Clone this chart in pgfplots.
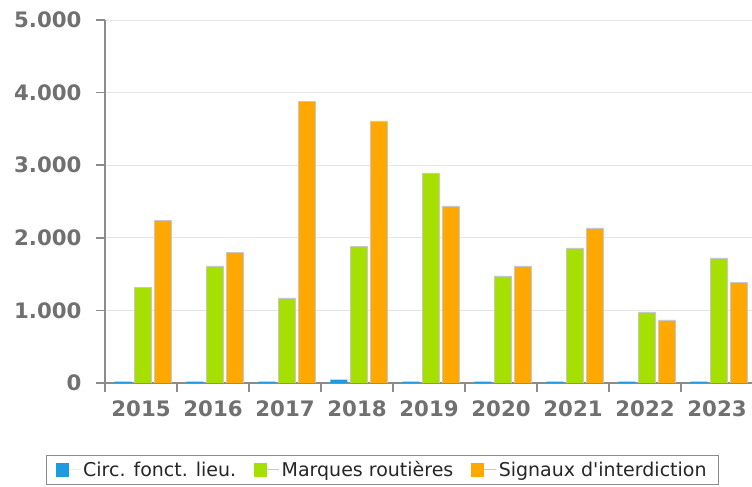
\documentclass[border=0pt]{standalone}
\usepackage{pgfplots}
\pgfplotsset{compat=1.18}
\usepackage{fontspec}
\setmainfont{DejaVu Sans}
\definecolor{cblue}{HTML}{1E9BE0}
\definecolor{cgreen}{HTML}{A6E000}
\definecolor{corange}{HTML}{FFA800}
\definecolor{tickgray}{HTML}{707070}
\definecolor{axgray}{HTML}{8C8C8C}
\definecolor{gridgray}{HTML}{E6E6E6}
\definecolor{edgegray}{HTML}{C8C8C8}
\begin{document}
\begin{tikzpicture}[x=1pt,y=1pt]
\begin{axis}[
  at={(105pt,104pt)}, anchor=south west,
  scale only axis, width=648pt, height=363pt,
  xmin=-0.5, xmax=8.5, ymin=0, ymax=5000,
  axis lines=left, axis line style={-, draw=axgray, line width=1.5pt},
  ytick={0,1000,...,5000},
  ymajorgrids, grid style={gridgray, line width=0.8pt},
  scaled y ticks=false,
  yticklabel style={/pgf/number format/.cd, 1000 sep={.}, assume math mode=true, /tikz/.cd, xshift=-11pt},
  xticklabel style={yshift=-5pt},
  ticklabel style={font=\fontsize{21.3}{25}\selectfont\bfseries, color=tickgray},
  xtick={-0.5,0.5,...,8.5},
  x tick label as interval,
  xticklabels={2015,2016,2017,2018,2019,2020,2021,2022,2023},
  tick align=outside,
  major tick length=9pt,
  tick style={axgray, line width=1.5pt},
  bar width=17pt,
  legend columns=3,
  legend style={at={(axis description cs:0.428,0)}, anchor=north, yshift=-72pt,
    draw=axgray, line width=1pt, font=\fontsize{19}{22}\selectfont, text=black!85,
    inner xsep=10pt, inner ysep=4pt,
    /tikz/every even column/.append style={column sep=16pt}},
  legend image code/.code={\fill[#1,draw=none] (0pt,-7pt) rectangle (13pt,7pt); \path (13pt,0pt) -- (25pt,0pt);},
]
\addplot[ybar, bar shift=-18pt, fill=cblue, draw=none] coordinates {
 (0,20) (1,20) (2,20) (3,45) (4,20) (5,20) (6,20) (7,20) (8,20)};
\addlegendentry{Circ. fonct. lieu.}
\addplot[ybar, bar shift=2pt, fill=cgreen, draw=edgegray, line width=0.8pt] coordinates {
 (0,1310) (1,1612) (2,1171) (3,1887) (4,2893) (5,1474) (6,1860) (7,978) (8,1722)};
\addlegendentry{Marques routières}
\addplot[ybar, bar shift=22pt, fill=corange, draw=edgegray, line width=0.8pt] coordinates {
 (0,2245) (1,1804) (2,3884) (3,3609) (4,2438) (5,1612) (6,2135) (7,868) (8,1391)};
\addlegendentry{Signaux d\textquotesingle interdiction}
\end{axis}
\pgfresetboundingbox
\useasboundingbox (0,0) rectangle (752,487);
\end{tikzpicture}
\end{document}
